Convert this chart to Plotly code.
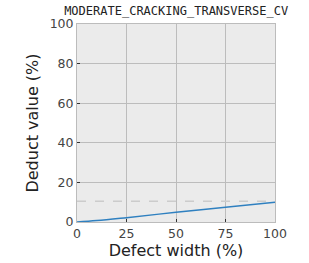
import plotly.graph_objects as go

width_pct = [0, 10, 25, 50, 75, 100]
deduct = [0, 0.7, 2.2, 4.9, 7.4, 10.0]
threshold = 10.5
title = "MODERATE_CRACKING_TRANSVERSE_CV"

fig = go.Figure()
fig.add_trace(go.Scatter(x=[0, 100], y=[threshold, threshold], mode="lines",
                         line=dict(color="#cccccc", width=1.5, dash="dash"), hoverinfo="skip"))
fig.add_trace(go.Scatter(x=width_pct, y=deduct, mode="lines",
                         line=dict(color="#2f80c0", width=1.5, shape="spline")))

axis_common = dict(showgrid=True, gridcolor="#bcbcbc", gridwidth=1, zeroline=False,
                   showline=True, linecolor="#bcbcbc", linewidth=1, mirror=True,
                   ticks="inside", ticklen=3, tickcolor="#333333", automargin=False,
                   tickfont=dict(family="DejaVu Sans", size=12.5, color="#444444"))
fig.update_xaxes(range=[0, 100], tickvals=[0, 25, 50, 75, 100],
                 title=dict(text="Defect width (%)", font=dict(family="DejaVu Sans", size=16, color="#222222"), standoff=3),
                 **axis_common)
fig.update_yaxes(range=[0, 100], tickvals=[0, 20, 40, 60, 80, 100],
                 title=dict(text="Deduct value (%)", font=dict(family="DejaVu Sans", size=16, color="#222222"), standoff=7),
                 **axis_common)
fig.update_layout(width=309, height=263, showlegend=False,
                  margin=dict(l=77, r=34, t=24, b=41),
                  plot_bgcolor="#ebebeb", paper_bgcolor="white",
                  title=dict(text=title, x=0.57, xanchor="center", y=0.958, yanchor="middle",
                             font=dict(family="DejaVu Sans Mono", size=12, color="#222222")))
fig.write_html("out.html", config={"displayModeBar": False},
               post_script="document.body.style.margin='0';")
